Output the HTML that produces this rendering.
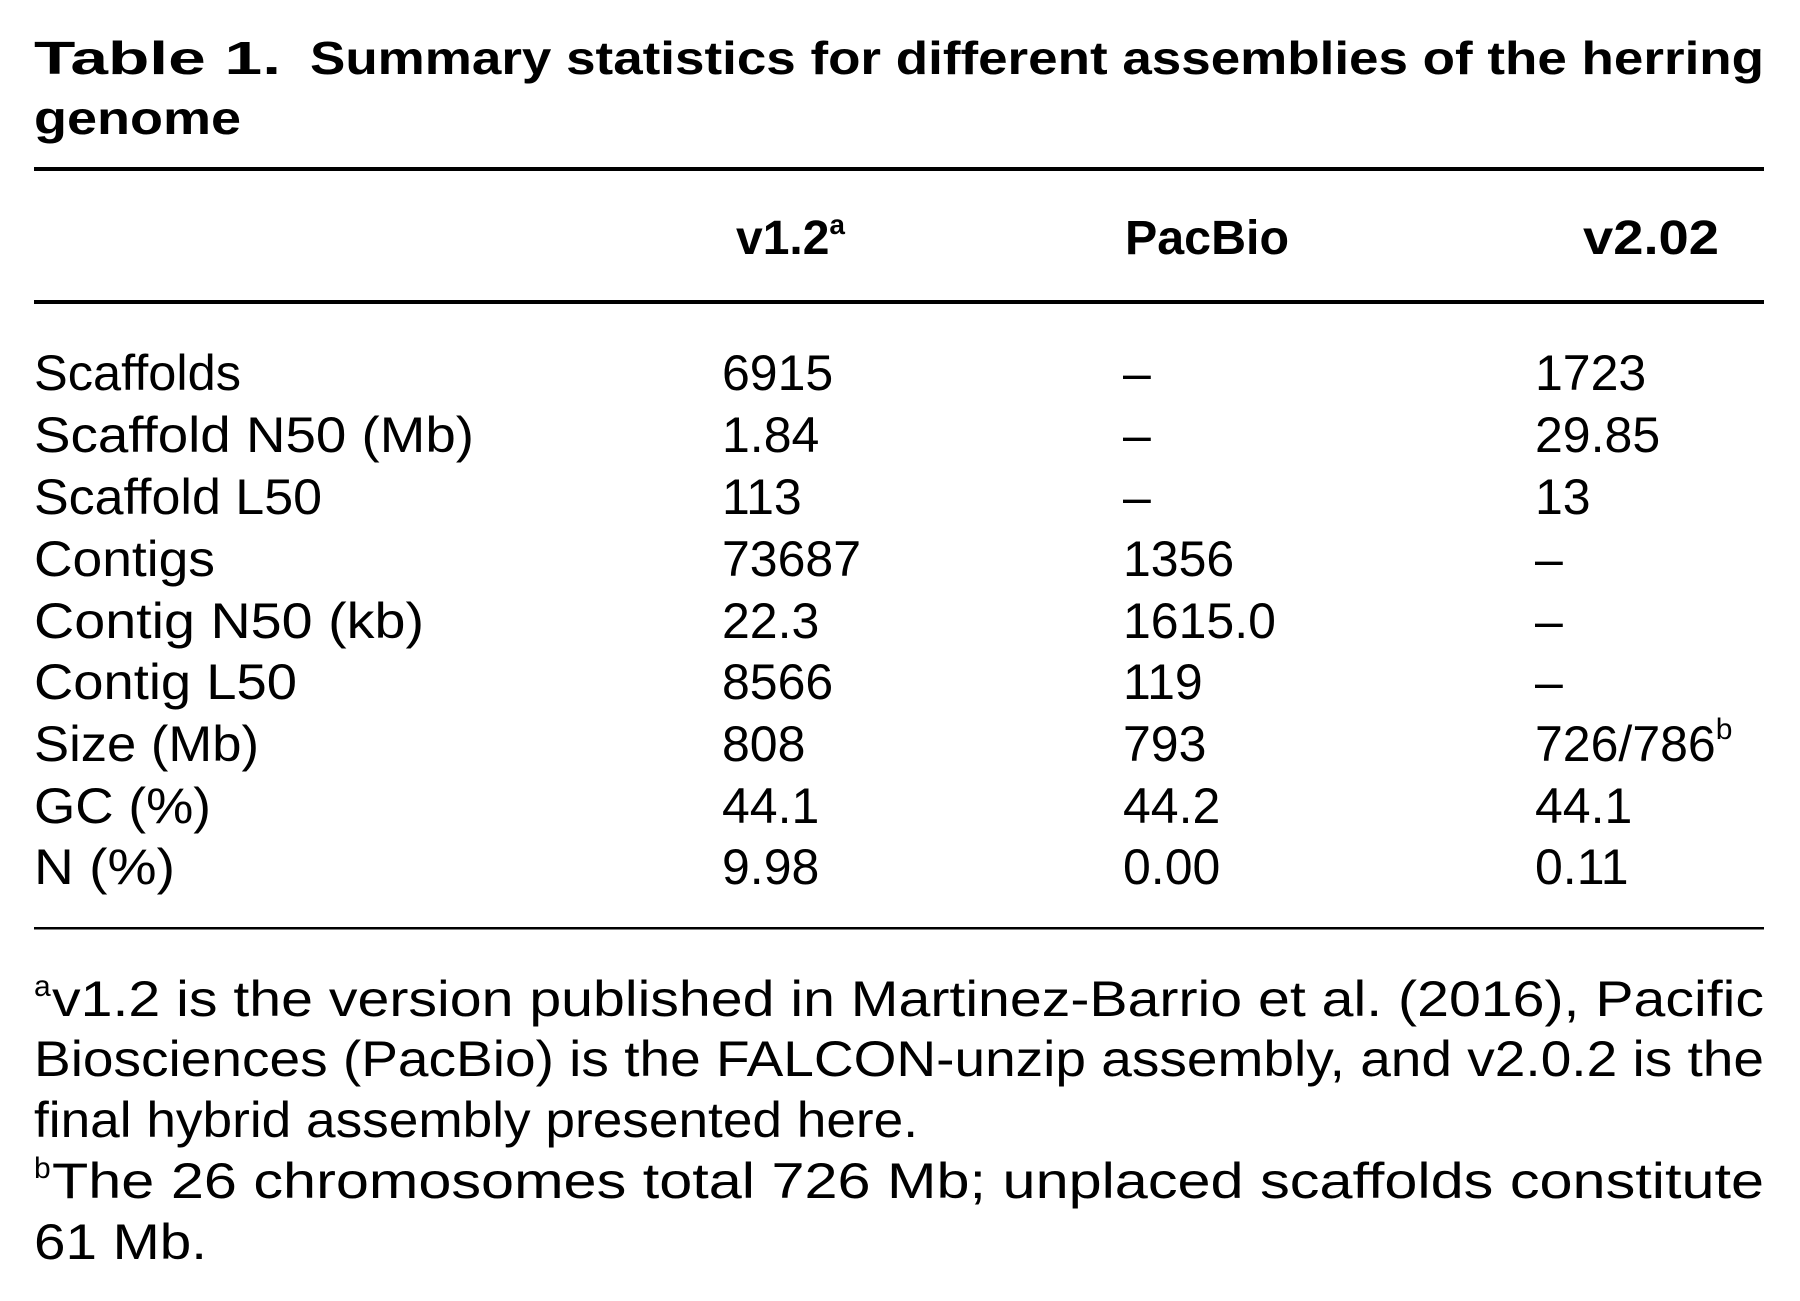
<!DOCTYPE html>
<html><head><meta charset="utf-8"><style>
html,body{margin:0;padding:0;background:#fff;}
svg{display:block;}
text{font-family:"Liberation Sans",sans-serif;fill:#000;}
.b{font-weight:bold;font-size:46px;}
.r{font-size:50px;}
.h{font-weight:bold;font-size:48px;}
.f{font-size:50px;}
</style></head><body>
<svg width="1800" height="1301" viewBox="0 0 1800 1301" xmlns="http://www.w3.org/2000/svg">
<text class="b" x="34" y="74" textLength="247" lengthAdjust="spacingAndGlyphs">Table 1.</text>
<text class="b" x="310" y="74" textLength="1454" lengthAdjust="spacingAndGlyphs">Summary statistics for different assemblies of the herring</text>
<text class="b" x="34" y="134" textLength="207" lengthAdjust="spacingAndGlyphs">genome</text>
<rect x="34" y="167" width="1730" height="4"/>
<text class="h" x="736" y="254">v1.2<tspan font-size="28" dy="-20">a</tspan></text>
<text class="h" x="1125" y="254" textLength="164" lengthAdjust="spacingAndGlyphs">PacBio</text>
<text class="h" x="1583" y="254" textLength="136" lengthAdjust="spacingAndGlyphs">v2.02</text>
<rect x="34" y="300" width="1730" height="4"/>
<g class="r">
<text x="34" y="390" textLength="207" lengthAdjust="spacingAndGlyphs">Scaffolds</text>
<text x="722" y="390">6915</text><text x="1123" y="390">–</text><text x="1535" y="390">1723</text>
<text x="34" y="452" textLength="440" lengthAdjust="spacingAndGlyphs">Scaffold N50 (Mb)</text>
<text x="722" y="452">1.84</text><text x="1123" y="452">–</text><text x="1535" y="452">29.85</text>
<text x="34" y="514" textLength="288" lengthAdjust="spacingAndGlyphs">Scaffold L50</text>
<text x="722" y="514">113</text><text x="1123" y="514">–</text><text x="1535" y="514">13</text>
<text x="34" y="576" textLength="181" lengthAdjust="spacingAndGlyphs">Contigs</text>
<text x="722" y="576">73687</text><text x="1123" y="576">1356</text><text x="1535" y="576">–</text>
<text x="34" y="638" textLength="390" lengthAdjust="spacingAndGlyphs">Contig N50 (kb)</text>
<text x="722" y="638">22.3</text><text x="1123" y="638">1615.0</text><text x="1535" y="638">–</text>
<text x="34" y="699" textLength="263" lengthAdjust="spacingAndGlyphs">Contig L50</text>
<text x="722" y="699">8566</text><text x="1123" y="699">119</text><text x="1535" y="699">–</text>
<text x="34" y="761" textLength="225" lengthAdjust="spacingAndGlyphs">Size (Mb)</text>
<text x="722" y="761">808</text><text x="1123" y="761">793</text><text x="1535" y="761">726/786<tspan font-size="30" dy="-22">b</tspan></text>
<text x="34" y="823" textLength="177" lengthAdjust="spacingAndGlyphs">GC (%)</text>
<text x="722" y="823">44.1</text><text x="1123" y="823">44.2</text><text x="1535" y="823">44.1</text>
<text x="34" y="884" textLength="141" lengthAdjust="spacingAndGlyphs">N (%)</text>
<text x="722" y="884">9.98</text><text x="1123" y="884">0.00</text><text x="1535" y="884">0.11</text>
</g>
<rect x="34" y="927" width="1730" height="2.5"/>
<g class="f">
<text x="34" y="1016"><tspan font-size="30" dy="-20">a</tspan></text>
<text x="52" y="1016" textLength="1712" lengthAdjust="spacingAndGlyphs">v1.2 is the version published in Martinez-Barrio et al. (2016), Pacific</text>
<text x="34" y="1076" textLength="1730" lengthAdjust="spacingAndGlyphs">Biosciences (PacBio) is the FALCON-unzip assembly, and v2.0.2 is the</text>
<text x="34" y="1137" textLength="884" lengthAdjust="spacingAndGlyphs">final hybrid assembly presented here.</text>
<text x="34" y="1198"><tspan font-size="30" dy="-20">b</tspan></text>
<text x="52" y="1198" textLength="1712" lengthAdjust="spacingAndGlyphs">The 26 chromosomes total 726 Mb; unplaced scaffolds constitute</text>
<text x="34" y="1259" textLength="173" lengthAdjust="spacingAndGlyphs">61 Mb.</text>
</g>
</svg>
</body></html>
